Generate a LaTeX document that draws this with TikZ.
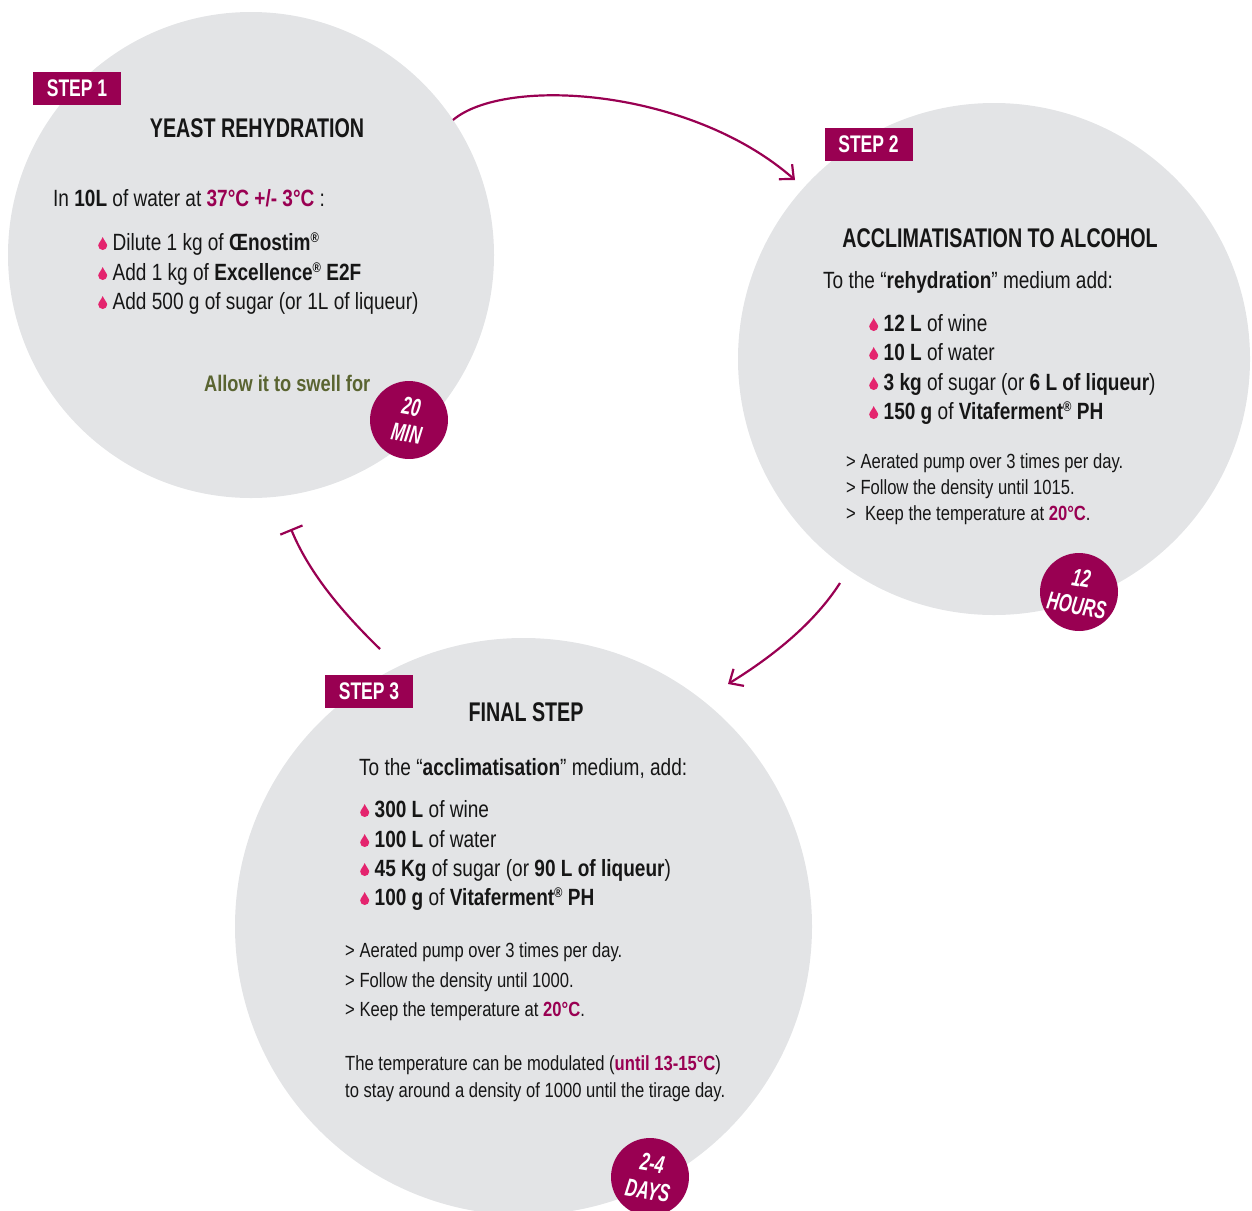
\documentclass[tikz,border=0pt]{standalone}
\usepackage{fontspec}
\setmainfont{Liberation Sans}[FakeStretch=0.81]
\newfontfamily\ttlfont{Liberation Sans}[FakeStretch=0.73]
\newfontfamily\bdgfont{Liberation Sans}[FakeStretch=0.66]
\usetikzlibrary{arrows.meta}
\definecolor{wine}{HTML}{990052}
\definecolor{dropc}{HTML}{E4246E}
\definecolor{disc}{HTML}{E3E4E6}
\definecolor{olive}{HTML}{5A6431}
\definecolor{ink}{HTML}{161616}
\newcommand\reg{\raisebox{0.62ex}{\fontsize{14}{14}\selectfont ®}}
\newcommand\drop{\tikz[x=1pt,y=1pt,baseline=0pt]\fill[dropc] (0,13) .. controls (1,10) and (4.5,6.5) .. (4.5,4.5) arc[start angle=0,end angle=-180,radius=4.5] .. controls (-4.5,6.5) and (-1,10) .. (0,13);\hspace{5.5pt}}
\newcommand\hl[1]{\textbf{\color{wine}#1}}
\tikzset{
  discnode/.style={circle, fill=disc, minimum size=#1, inner sep=0pt},
  stepbox/.style={fill=wine, text=white, font=\ttlfont\bfseries\fontsize{24}{26}\selectfont, minimum width=88pt, minimum height=33pt, inner sep=0pt},
  ttl/.style={font=\ttlfont\bfseries\fontsize{27}{30}\selectfont, text=ink, anchor=base, inner sep=0pt},
  body/.style={font=\fontsize{23.5}{28}\selectfont, text=ink, anchor=base west, inner sep=0pt},
  small/.style={font=\fontsize{20.5}{26}\selectfont, text=ink, anchor=base west, inner sep=0pt},
  badge/.style={circle, fill=wine, minimum size=78pt, inner sep=0pt, text=white, align=center, rotate=-10, font=\bdgfont\bfseries\itshape\fontsize{25}{27.5}\selectfont},
  flow/.style={draw=wine, line width=2.2pt},
}
\begin{document}
\begin{tikzpicture}[x=1pt,y=-1pt]
\useasboundingbox (0,0) rectangle (1252,1210);
% discs
\node[discnode=486pt] (s1) at (251,255) {};
\node[discnode=512pt] (s2) at (994,359) {};
\node[discnode=577pt] (s3) at (523.5,926.5) {};
% connectors
\coordinate (a1s) at (453,120);
\coordinate (a1e) at (795,180);
\coordinate (a2s) at (840,583);
\coordinate (a2e) at (728,684);
\coordinate (a3s) at (380,649);
\coordinate (a3e) at (291,529);
\draw[flow, -{Straight Barb[length=11pt,width=20pt]}] (a1s) .. controls (505,76) and (690,88) .. (a1e);
\draw[flow, -{Straight Barb[length=11pt,width=20pt]}] (a2s) .. controls (815,622) and (775,655) .. (a2e);
\draw[flow, -{Bar[width=24pt]}] (a3s) .. controls (345,615) and (310,575) .. (a3e);
% step 1
\node[stepbox] (st1) at (77,88.5) {STEP 1};
\node[ttl] (t1) at (257,137) {YEAST REHYDRATION};
\node[body] (s1a) at (53,206) {In \textbf{10L} of water at \hl{37°C +/- 3°C} :};
\node[body] (s1b) at (98,250) {\drop Dilute 1 kg of \textbf{Œnostim\reg}};
\node[body] (s1c) at (98,280) {\drop Add 1 kg of \textbf{Excellence\reg{} E2F}};
\node[body] (s1d) at (98,309) {\drop Add 500 g of sugar (or 1L of liqueur)};
\node[body, text=olive, font=\fontsize{22.5}{28}\selectfont] (s1e) at (204,391) {\textbf{Allow it to swell for}};
\node[badge] (b1) at (409,420) {20\\MIN};
% step 2
\node[stepbox] (st2) at (868.5,144.5) {STEP 2};
\node[ttl] (t2) at (1000,247) {ACCLIMATISATION TO ALCOHOL};
\node[body] (s2a) at (823,288) {To the “\textbf{rehydration}” medium add:};
\node[body] (s2b) at (869,331) {\drop\textbf{12 L} of wine};
\node[body] (s2c) at (869,360) {\drop\textbf{10 L} of water};
\node[body] (s2d) at (869,390) {\drop\textbf{3 kg} of sugar (or \textbf{6 L of liqueur})};
\node[body] (s2e) at (869,419) {\drop\textbf{150 g} of \textbf{Vitaferment\reg{} PH}};
\node[small] (s2f) at (846,468) {> Aerated pump over 3 times per day.};
\node[small] (s2g) at (846,494) {> Follow the density until 1015.};
\node[small] (s2h) at (846,520) {>\ \ Keep the temperature at \hl{20°C}.};
\node[badge] (b2) at (1079,592) {12\\HOURS};
% step 3
\node[stepbox] (st3) at (369,691.5) {STEP 3};
\node[ttl] (t3) at (526,721) {FINAL STEP};
\node[body] (s3a) at (359,775) {To the “\textbf{acclimatisation}” medium, add:};
\node[body] (s3b) at (360,817) {\drop\textbf{300 L} of wine};
\node[body] (s3c) at (360,847) {\drop\textbf{100 L} of water};
\node[body] (s3d) at (360,876) {\drop\textbf{45 Kg} of sugar (or \textbf{90 L of liqueur})};
\node[body] (s3e) at (360,905) {\drop\textbf{100 g} of \textbf{Vitaferment\reg{} PH}};
\node[small] (s3f) at (345,957) {> Aerated pump over 3 times per day.};
\node[small] (s3g) at (345,987) {> Follow the density until 1000.};
\node[small] (s3h) at (345,1016) {> Keep the temperature at \hl{20°C}.};
\node[small] (s3i) at (345,1070) {The temperature can be modulated (\hl{until 13-15°C})};
\node[small] (s3j) at (345,1097) {to stay around a density of 1000 until the tirage day.};
\node[badge] (b3) at (650,1177) {2-4\\DAYS};
\end{tikzpicture}
\end{document}
